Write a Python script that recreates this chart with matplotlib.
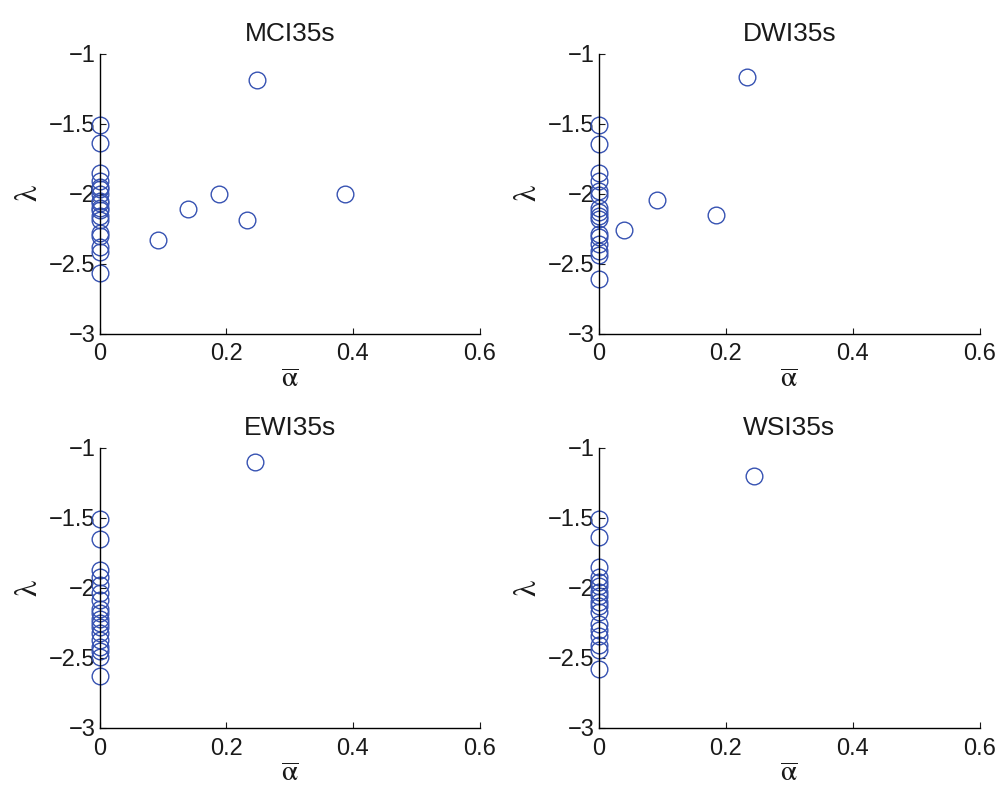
import matplotlib
matplotlib.use('Agg')
import matplotlib.pyplot as plt

plt.rcParams['font.family'] = ['Liberation Sans', 'DejaVu Sans']
plt.rcParams['mathtext.fontset'] = 'stix'

titles = ['MCI35s', 'DWI35s', 'EWI35s', 'WSI35s']

# points sitting on alpha = 0
mci_zero = [-1.51, -1.64, -1.85, -1.91, -1.95, -1.97, -2.0, -2.05, -2.07, -2.10,
            -2.12, -2.16, -2.19, -2.28, -2.30, -2.38, -2.42, -2.57]
dwi_zero = [-1.51, -1.645, -1.85, -1.91, -1.98, -2.01, -2.10, -2.13, -2.16, -2.18,
            -2.29, -2.31, -2.36, -2.41, -2.44, -2.61]
ewi_zero = [-1.51, -1.65, -1.87, -1.92, -1.98, -2.04, -2.09, -2.15, -2.18, -2.22,
            -2.25, -2.28, -2.32, -2.37, -2.42, -2.45, -2.49, -2.63]
wsi_zero = [-1.51, -1.64, -1.85, -1.92, -1.955, -1.99, -2.03, -2.06, -2.10, -2.13,
            -2.17, -2.26, -2.30, -2.34, -2.41, -2.44, -2.58]

# points with alpha > 0
mci_alpha = [0.248, 0.387, 0.188, 0.139, 0.233, 0.092]
mci_lambda = [-1.19, -2.006, -2.0, -2.11, -2.19, -2.33]
dwi_alpha = [0.234, 0.092, 0.184, 0.04]
dwi_lambda = [-1.166, -2.045, -2.154, -2.26]
ewi_alpha = [0.245]
ewi_lambda = [-1.10]
wsi_alpha = [0.245]
wsi_lambda = [-1.20]

zeros = [mci_zero, dwi_zero, ewi_zero, wsi_zero]
alphas = [mci_alpha, dwi_alpha, ewi_alpha, wsi_alpha]
lambdas = [mci_lambda, dwi_lambda, ewi_lambda, wsi_lambda]

xticks = [0, 0.2, 0.4, 0.6]
xticklabels = ['0', '0.2', '0.4', '0.6']
yticks = [-3, -2.5, -2, -1.5, -1]
yticklabels = ['\u22123', '\u22122.5', '\u22122', '\u22121.5', '\u22121']

fig = plt.figure(figsize=(9.99, 7.87), dpi=100)
positions = [
    [0.100, 0.576, 0.380, 0.356],
    [0.5996, 0.576, 0.381, 0.356],
    [0.100, 0.075, 0.380, 0.356],
    [0.5996, 0.075, 0.381, 0.356],
]

blue = '#3652b2'
text_col = '#1a1a1a'

for i in range(4):
    ax = fig.add_axes(positions[i])
    xs = [0] * len(zeros[i]) + alphas[i]
    ys = zeros[i] + lambdas[i]
    ax.plot(xs, ys, 'o', mfc='none', mec=blue, ms=12, mew=1.0, clip_on=False)
    ax.set_xlim(0, 0.6)
    ax.set_ylim(-3, -1)
    ax.set_xticks(xticks)
    ax.set_xticklabels(xticklabels)
    ax.set_yticks(yticks)
    ax.set_yticklabels(yticklabels)
    ax.spines['top'].set_visible(False)
    ax.spines['right'].set_visible(False)
    ax.spines['left'].set_linewidth(1.0)
    ax.spines['bottom'].set_linewidth(1.0)
    ax.tick_params(direction='in', length=4, width=0.8, labelsize=17, colors=text_col)
    ax.tick_params(axis='x', pad=7)
    ax.tick_params(axis='y', pad=3)
    ax.set_title(titles[i], fontsize=19, pad=9, color=text_col)
    ax.set_xlabel(r'$\overline{\mathrm{\alpha}}$', fontsize=21, labelpad=0, color=text_col)
    ax.set_ylabel(r'$\mathrm{\lambda}$', fontsize=23, labelpad=4, rotation=90, color=text_col)

plt.savefig('out.png', dpi=100)
